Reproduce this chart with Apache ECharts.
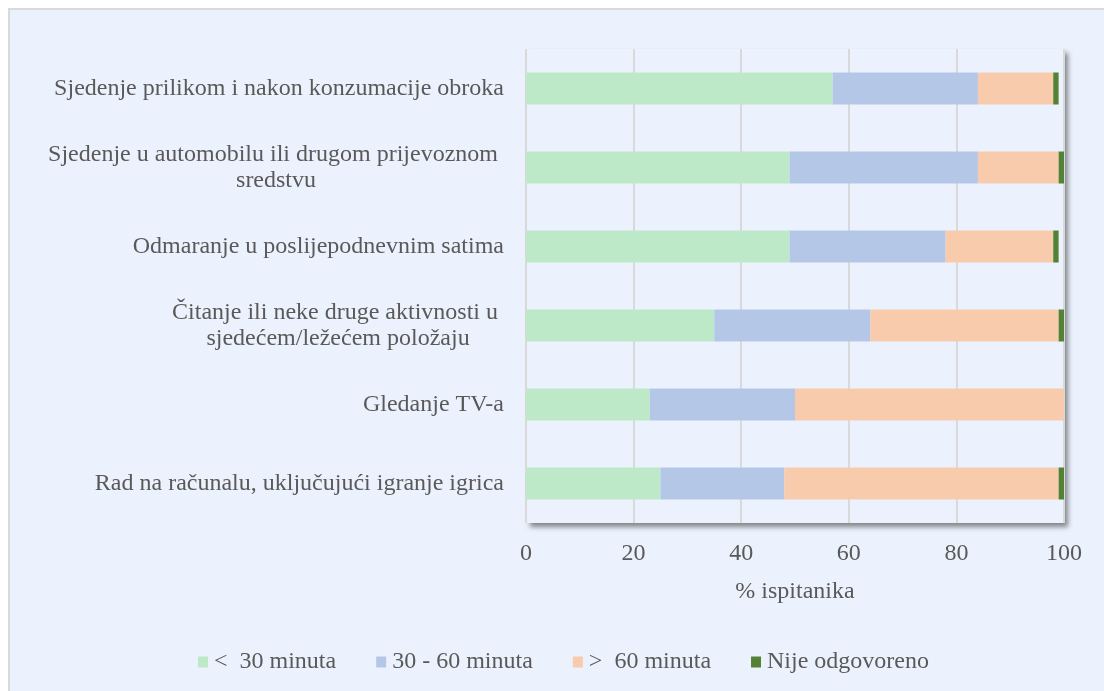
<!DOCTYPE html>
<html>
<head>
<meta charset="utf-8">
<script src="https://cdn.jsdelivr.net/npm/echarts@6/dist/echarts.min.js"></script>
<style>
  html, body { margin: 0; padding: 0; background: #ffffff; }
  #frame { position: absolute; left: 8px; top: 8px; width: 1110px; height: 700px;
           background: #ecf2fd; border-left: 2px solid #d9d9d9; border-top: 2px solid #d9d9d9; }
  #main { position: absolute; left: 0; top: 0; width: 1104px; height: 691px; }
</style>
</head>
<body>
<div id="frame"></div>
<div id="main"></div>
<script>
// kategorije, odozgo prema dolje
const categories = [
  'Sjedenje prilikom i nakon konzumacije obroka',
  'Sjedenje u automobilu ili drugom prijevoznom \nsredstvu',
  'Odmaranje u poslijepodnevnim satima',
  'Čitanje ili neke druge aktivnosti u \nsjedećem/ležećem položaju',
  'Gledanje TV-a',
  'Rad na računalu, uključujući igranje igrica'
];
const seriesNames = ['<  30 minuta', '30 - 60 minuta', '>  60 minuta', 'Nije odgovoreno'];
const lessThan30 = [57, 49, 49, 35, 23, 25];
const from30to60 = [27, 35, 29, 29, 27, 23];
const moreThan60 = [14, 15, 20, 35, 50, 51];
const noAnswer = [1, 1, 1, 1, 0.4, 1];
const xTicks = [0, 20, 40, 60, 80, 100];

const colors = ['#bde9c9', '#b4c7e7', '#f8cbad', '#548235'];
const textColor = '#595959';
const font = '"Liberation Serif", "Times New Roman", serif';

var myChart = echarts.init(document.getElementById('main'));

const values = [lessThan30, from30to60, moreThan60, noAnswer];

let option = {
  backgroundColor: 'transparent',
  textStyle: { fontFamily: font, color: textColor },
  grid: {
    left: 526, right: 40, top: 49, bottom: 168,
    show: true,
    backgroundColor: '#ecf2fd',
    borderWidth: 0,
    shadowColor: 'rgba(0,0,0,0.45)',
    shadowBlur: 5,
    shadowOffsetX: 4,
    shadowOffsetY: 4
  },
  legend: {
    left: 193,
    top: 645,
    itemWidth: 10,
    itemHeight: 11,
    itemGap: 40,
    icon: 'rect',
    textStyle: { fontFamily: font, fontSize: 24, color: textColor, padding: [0, 0, 0, 1] },
    data: seriesNames
  },
  xAxis: {
    type: 'value',
    min: xTicks[0],
    max: xTicks[xTicks.length - 1],
    interval: xTicks[1] - xTicks[0],
    name: '% ispitanika',
    nameLocation: 'middle',
    nameGap: 57,
    nameTextStyle: { fontFamily: font, fontSize: 24, color: textColor },
    axisLine: { show: false },
    axisTick: { show: false },
    axisLabel: { fontFamily: font, fontSize: 24, color: textColor, margin: 19 },
    splitLine: { show: true, lineStyle: { color: '#d9d9d9', width: 2 } }
  },
  yAxis: {
    type: 'category',
    inverse: true,
    data: categories,
    axisLine: { show: false },
    axisTick: { show: false },
    axisLabel: {
      margin: 22,
      fontFamily: font,
      fontSize: 24,
      color: textColor,
      lineHeight: 26,
      formatter: function (v) {
        return v.split('\n').map(function (s) { return '{c|' + s + '}'; }).join('\n');
      },
      rich: {
        c: { align: 'center', fontFamily: font, fontSize: 24, color: textColor, lineHeight: 26 }
      }
    }
  },
  series: seriesNames.map(function (name, i) {
    return {
      name: name,
      type: 'bar',
      stack: 'ukupno',
      barWidth: 32,
      itemStyle: { color: colors[i] },
      emphasis: { disabled: true },
      data: values[i]
    };
  })
};

myChart.setOption(option);
</script>
</body>
</html>
